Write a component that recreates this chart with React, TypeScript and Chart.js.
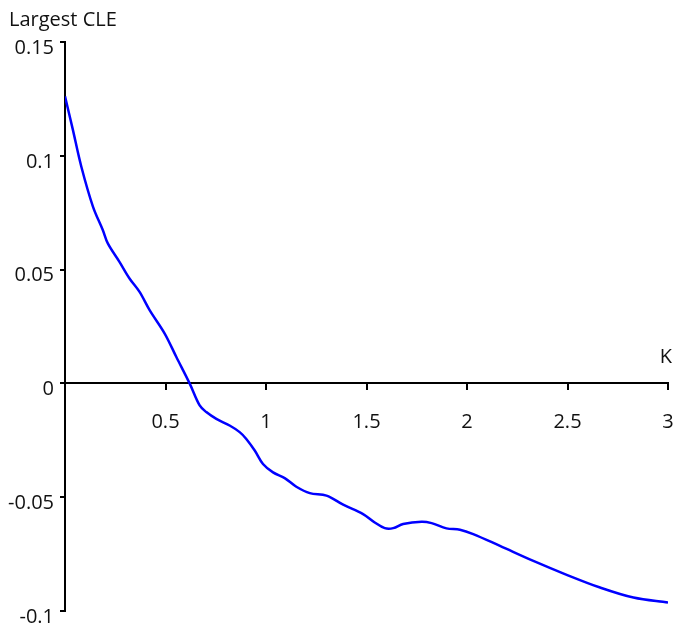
import React, { useEffect, useRef } from "react";
import { Chart, registerables } from "chart.js";

Chart.register(...registerables);

// Largest conditional Lyapunov exponent against coupling strength K
const kValues = [
  0.0, 0.039, 0.081, 0.139, 0.188, 0.213, 0.271, 0.321, 0.371, 0.421,
  0.496, 0.554, 0.62, 0.67, 0.703, 0.753, 0.819, 0.869, 0.902, 0.944, 0.985,
  1.035, 1.093, 1.151, 1.218, 1.301, 1.384, 1.483, 1.541, 1.591, 1.633, 1.682,
  1.774, 1.824, 1.898, 1.965, 2.031, 2.164, 2.33, 2.496, 2.662, 2.828, 3.0,
];
const cleValues = [
  0.1261, 0.1115, 0.0953, 0.0777, 0.0674, 0.0615, 0.0534, 0.0461,
  0.0402, 0.0322, 0.0219, 0.0116, 0.0, -0.0097, -0.0126, -0.0156, -0.0185,
  -0.0214, -0.0244, -0.0295, -0.0354, -0.0391, -0.0416, -0.0454, -0.0482,
  -0.0493, -0.0533, -0.0574, -0.0611, -0.0636, -0.0636, -0.0618, -0.0608,
  -0.0614, -0.0637, -0.0643, -0.0662, -0.0714, -0.078, -0.0841, -0.0897,
  -0.0941, -0.0963,
];

const xTickValues = [0.5, 1, 1.5, 2, 2.5, 3];
const xTickLabels = ["0.5", "1", "1.5", "2", "2.5", "3"];
const yTickValues = [-0.1, -0.05, 0, 0.05, 0.1, 0.15];
const yTickLabels = ["-0.1", "-0.05", "0", "0.05", "0.1", "0.15"];

const yAxisTitle = "Largest CLE";
const xAxisTitle = "K";

const FONT = "'Open Sans', 'DejaVu Sans', sans-serif";
const FONT_SIZE = 20;
const TEXT_COLOR = "#111";

const axisTitles = {
  id: "axisTitles",
  afterDraw(chart: Chart) {
    const { ctx } = chart;
    const x = chart.scales.x;
    const y = chart.scales.y;
    ctx.save();
    ctx.fillStyle = TEXT_COLOR;
    ctx.font = `${FONT_SIZE}px ${FONT}`;
    ctx.textBaseline = "alphabetic";
    ctx.textAlign = "left";
    ctx.fillText(yAxisTitle, 9, 26);
    ctx.textAlign = "right";
    ctx.fillText(xAxisTitle, x.right + 4, y.getPixelForValue(0) - 20);
    ctx.restore();
  },
};

export default function App() {
  const canvasRef = useRef<HTMLCanvasElement | null>(null);

  useEffect(() => {
    if (!canvasRef.current) return;
    const chart = new Chart(canvasRef.current, {
      type: "line",
      data: {
        datasets: [
          {
            data: kValues.map((k, i) => ({ x: k, y: cleValues[i] })),
            borderColor: "#0000ff",
            borderWidth: 2.5,
            pointRadius: 0,
            tension: 0.35,
            fill: false,
          },
        ],
      },
      plugins: [axisTitles],
      options: {
        animation: false,
        responsive: true,
        maintainAspectRatio: false,
        layout: { padding: { left: 0, right: 5, top: 42, bottom: 18 } },
        plugins: {
          legend: { display: false },
          tooltip: { enabled: false },
          title: { display: false },
        },
        scales: {
          x: {
            type: "linear",
            min: 0,
            max: 3,
            position: { y: 0 } as any,
            afterBuildTicks: (scale: any) => {
              scale.ticks = xTickValues.map((v) => ({ value: v }));
            },
            afterFit: (scale: any) => {
              scale.paddingLeft = 0;
              scale.paddingRight = 0;
            },
            border: { display: true, color: "#000", width: 2 },
            grid: {
              display: true,
              drawOnChartArea: false,
              drawTicks: true,
              tickLength: 6,
              color: "#000",
              lineWidth: 2,
            },
            ticks: {
              color: TEXT_COLOR,
              font: { family: FONT, size: FONT_SIZE },
              padding: 21,
              maxRotation: 0,
              autoSkip: false,
              callback: (v: any) => {
                const i = xTickValues.indexOf(Number(v));
                return i >= 0 ? xTickLabels[i] : "";
              },
            },
          },
          y: {
            type: "linear",
            min: -0.1,
            max: 0.15,
            position: "left",
            afterFit: (scale: any) => {
              scale.width = 65;
            },
            afterBuildTicks: (scale: any) => {
              scale.ticks = yTickValues.map((v) => ({ value: v }));
            },
            border: { display: true, color: "#000", width: 2 },
            grid: {
              display: true,
              drawOnChartArea: false,
              drawTicks: true,
              tickLength: 5,
              color: "#000",
              lineWidth: 2,
            },
            ticks: {
              color: TEXT_COLOR,
              font: { family: FONT, size: FONT_SIZE },
              padding: 6,
              labelOffset: 6,
              autoSkip: false,
              callback: (v: any) => {
                const i = yTickValues.findIndex((t) => Math.abs(t - Number(v)) < 1e-9);
                return i >= 0 ? yTickLabels[i] : "";
              },
            },
          },
        },
      },
    });
    return () => chart.destroy();
  }, []);

  return (
    <div
      style={{
        position: "absolute",
        left: 0,
        top: 0,
        width: 673,
        height: 629,
        background: "#fff",
      }}
    >
      <canvas ref={canvasRef} />
    </div>
  );
}
